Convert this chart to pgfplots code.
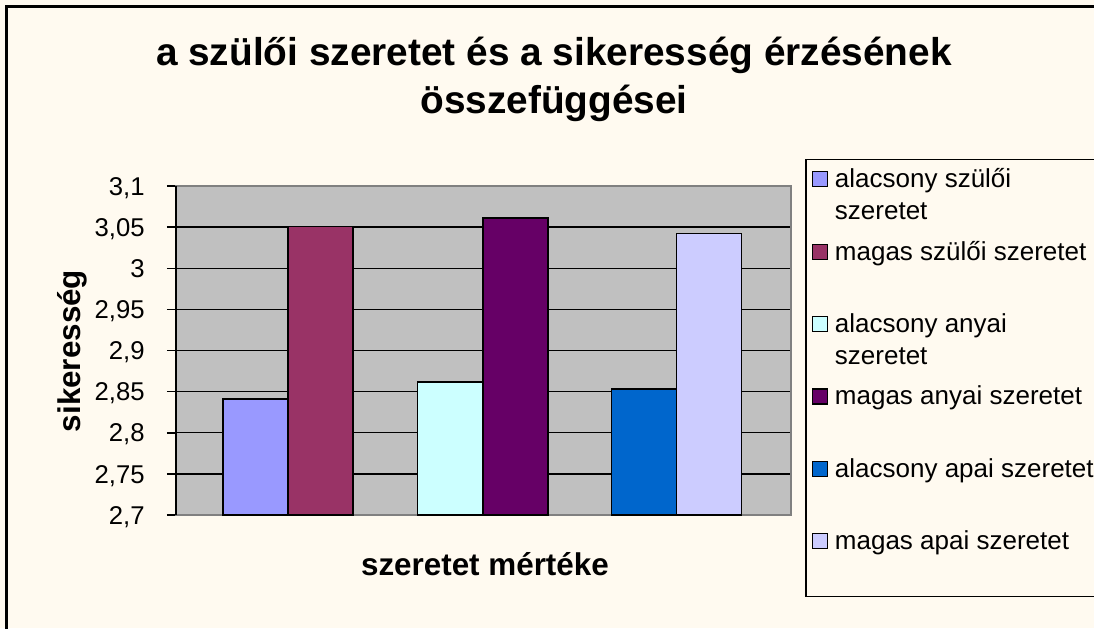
\documentclass[border=0pt]{standalone}
\usepackage{fontspec}
\setmainfont{Liberation Sans}
\usepackage{pgfplots}
\pgfplotsset{compat=1.18}

\definecolor{bgcream}{RGB}{255,250,240}
\definecolor{plotgray}{RGB}{192,192,192}
\definecolor{bordergray}{RGB}{128,128,128}
\definecolor{cA}{HTML}{9999FF}
\definecolor{cB}{HTML}{993366}
\definecolor{cC}{HTML}{CCFFFF}
\definecolor{cD}{HTML}{660066}
\definecolor{cE}{HTML}{0066CC}
\definecolor{cF}{HTML}{CCCCFF}

% one bar per series, placed by hand on a pixel-like x axis
\pgfplotsset{
  excelbar/.style={ybar, bar width=65, bar shift=0pt, draw=black, line width=0.75pt,
    legend image code/.code={\draw[##1,line width=0.6pt] (0pt,0.5pt) rectangle (7.5pt,8pt);}},
}
\tikzset{lgent/.style={text height=12.5pt, text depth=#1, inner sep=0pt, outer sep=0pt}}
\newcommand{\entry}[1]{\parbox[t]{150pt}{#1}}

\begin{document}
\begin{tikzpicture}
\path[use as bounding box] (0,0) rectangle (547pt,314pt);
\clip (0,0) rectangle (547pt,314pt);
\fill[bgcream] (0,0) rectangle (547pt,314pt);
\draw[black,line width=1.2pt] (3.25pt,-1pt) -- (3.25pt,310.75pt) -- (548pt,310.75pt);

\node[font=\fontsize{19.4}{24}\bfseries\selectfont,anchor=base] at (277pt,281pt)
  {a szülői szeretet és a sikeresség érzésének};
\node[font=\fontsize{19.4}{24}\bfseries\selectfont,anchor=base] at (277pt,257pt)
  {összefüggései};

\begin{axis}[
  at={(88pt,56.5pt)}, anchor=south west,
  scale only axis, width=307.5pt, height=164.5pt,
  xmin=176, xmax=791, ymin=2.7, ymax=3.1,
  axis background/.style={fill=plotgray},
  axis line style={draw=bordergray, line width=0.9pt},
  xtick=\empty,
  ytick={2.7,2.75,2.8,2.85,2.9,2.95,3,3.05,3.1},
  yticklabels={{2,7},{2,75},{2,8},{2,85},{2,9},{2,95},{3},{3,05},{3,1}},
  ytick pos=left, tick align=outside, major tick length=4.5pt,
  ytick style={black, line width=0.75pt},
  yticklabel style={font=\fontsize{12.85}{15}\selectfont, anchor=east,
    inner sep=0pt, text height=9.2pt, text depth=0pt, xshift=-11pt},
  ymajorgrids, grid style={black, line width=0.65pt},
  xlabel={szeretet mértéke},
  xlabel style={font=\fontsize{15.7}{18}\bfseries\selectfont,
    at={(axis description cs:0.5024,0)}, anchor=base, yshift=-30pt},
  ylabel={sikeresség},
  ylabel style={font=\fontsize{15.7}{18}\bfseries\selectfont,
    at={(axis description cs:-0.1554,0.4985)}, anchor=base, rotate=0},
  legend style={at={(axis description cs:1.0228,1.0821)}, anchor=north west,
    draw=black, line width=0.75pt, fill=bgcream,
    font=\fontsize{13}{16}\selectfont,
    inner xsep=3pt, inner ysep=1.5pt, column sep=3.5pt, row sep=0pt,
    cells={anchor=base west, inner sep=0pt}},
  extra description/.code={\draw[black,line width=0.9pt] (rel axis cs:0,0) -- (rel axis cs:0,1);},
]
\addplot[excelbar, fill=cA] coordinates {(255.5,2.841)};
\addlegendentry[lgent=23.7pt]{\entry{alacsony szülői\\szeretet}}
\addplot[excelbar, fill=cB] coordinates {(320.5,3.051)};
\addlegendentry[lgent=23.7pt]{\entry{magas szülői szeretet}}
\addplot[excelbar, fill=cC] coordinates {(450.25,2.862)};
\addlegendentry[lgent=23.7pt]{\entry{alacsony anyai\\szeretet}}
\addplot[excelbar, fill=cD] coordinates {(515.25,3.061)};
\addlegendentry[lgent=23.7pt]{\entry{magas anyai szeretet}}
\addplot[excelbar, fill=cE] coordinates {(643.75,2.853)};
\addlegendentry[lgent=23.7pt]{\entry{alacsony apai szeretet}}
\addplot[excelbar, fill=cF] coordinates {(708.75,3.042)};
\addlegendentry[lgent=22pt]{\entry{magas apai szeretet}}
\end{axis}
\end{tikzpicture}
\end{document}
